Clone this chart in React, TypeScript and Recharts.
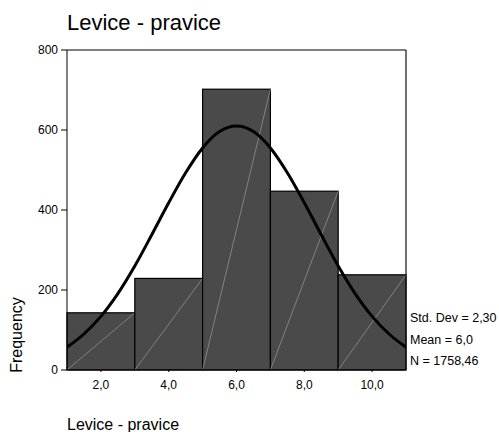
import {
  ComposedChart,
  Line,
  XAxis,
  YAxis,
  ReferenceArea,
  ReferenceLine,
} from "recharts"

// histogram bins (from, to, count)
const binStarts = [1, 3, 5, 7, 9]
const binEnds = [3, 5, 7, 9, 11]
const binCounts = [143, 229, 702, 447, 238]

// fitted normal curve
const curveX = [1, 1.5, 2, 2.5, 3, 3.5, 4, 4.5, 5, 5.5, 6, 6.5, 7, 7.5, 8, 8.5, 9, 9.5, 10, 10.5, 11]
const curveY = [57, 90, 134, 191, 260, 338, 418, 493, 555, 596, 610, 596, 555, 493, 418, 338, 260, 191, 134, 90, 57]

const xTicks = [2, 4, 6, 8, 10]
const yTicks = [0, 200, 400, 600, 800]

const stats = ["Std. Dev = 2,30", "Mean = 6,0", "N = 1758,46"]

const font = "Arial, 'Liberation Sans', sans-serif"

const curve = curveX.map((x, i) => ({ x, y: curveY[i] }))

const BinShape = (props: any) => {
  const { x, y, width, height } = props
  return (
    <g>
      <rect x={x} y={y} width={width} height={height} fill="#4a4a4a" stroke="#000" strokeWidth={1.2} />
      <line x1={x} y1={y + height} x2={x + width} y2={y} stroke="#9a9a9a" strokeWidth={0.7} />
    </g>
  )
}

export default function App() {
  return (
    <div style={{ position: "absolute", left: 0, top: 0, width: 499, height: 432, background: "#fff", fontFamily: font }}>
      <ComposedChart
        width={499}
        height={432}
        data={curve}
        margin={{ top: 50, right: 93, bottom: 32, left: 0 }}
      >
        <XAxis
          type="number"
          dataKey="x"
          domain={[1, 11]}
          ticks={xTicks}
          allowDataOverflow
          tickFormatter={v => v.toFixed(1).replace(".", ",")}
          tickSize={2}
          tickMargin={8}
          height={30}
          axisLine={{ stroke: "#000" }}
          tickLine={{ stroke: "#000" }}
          tick={{ fill: "#000", fontSize: 12, fontFamily: font }}
        />
        <YAxis
          type="number"
          domain={[0, 800]}
          ticks={yTicks}
          width={67}
          tickSize={6}
          tickMargin={3}
          axisLine={{ stroke: "#000" }}
          tickLine={{ stroke: "#000" }}
          tick={{ fill: "#000", fontSize: 12, fontFamily: font }}
        />
        {binStarts.map((s, i) => (
          <ReferenceArea
            key={i}
            x1={s}
            x2={binEnds[i]}
            y1={0}
            y2={binCounts[i]}
            shape={BinShape}
            fillOpacity={1}
          />
        ))}
        <ReferenceLine y={800} stroke="#555" strokeWidth={1.5} />
        <ReferenceLine x={11} stroke="#111" strokeWidth={1.2} />
        <Line
          type="monotone"
          dataKey="y"
          stroke="#000"
          strokeWidth={3}
          dot={false}
          isAnimationActive={false}
        />
      </ComposedChart>
      <svg width={499} height={432} style={{ position: "absolute", left: 0, top: 0, pointerEvents: "none" }}>
        <text x={67} y={30} fontSize={22} fontFamily={font} fill="#000">Levice - pravice</text>
        <text x={67} y={430} fontSize={16} fontFamily={font} fill="#000">Levice - pravice</text>
        <text
          x={0}
          y={0}
          fontSize={16}
          fontFamily={font}
          fill="#000"
          textAnchor="middle"
          transform="translate(22,335) rotate(-90)"
        >
          Frequency
        </text>
        {stats.map((s, i) => (
          <text key={i} x={410} y={322 + i * 21.7} fontSize={12.5} fontFamily={font} fill="#000">
            {s}
          </text>
        ))}
      </svg>
    </div>
  )
}
